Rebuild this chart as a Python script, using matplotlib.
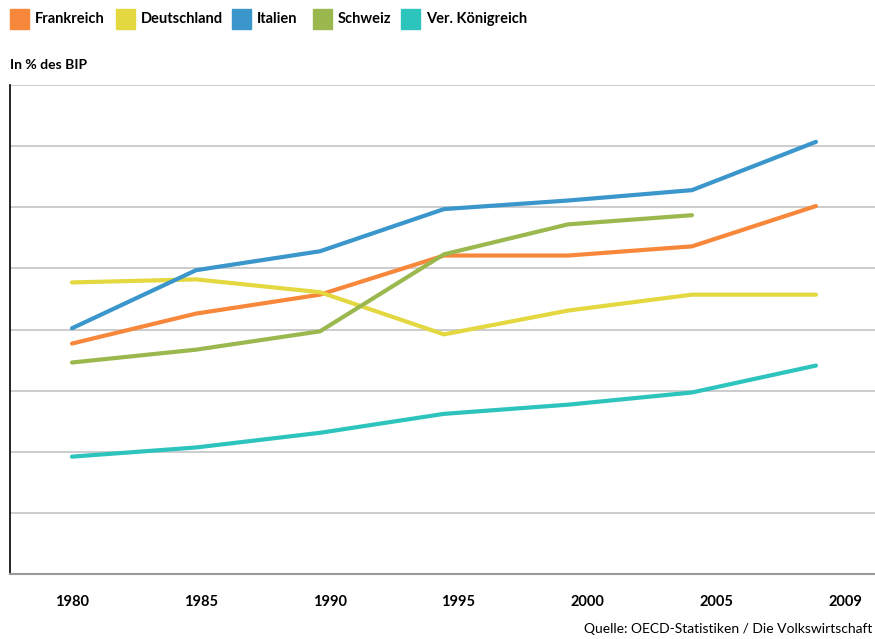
import matplotlib.pyplot as plt
import numpy as np
from matplotlib.patches import Rectangle

plt.rcParams["font.family"] = ["Lato", "DejaVu Sans"]

years = ["1980", "1985", "1990", "1995", "2000", "2005", "2009"]
frankreich = [3.77, 4.26, 4.57, 5.21, 5.21, 5.36, 6.02]
deutschland = [4.77, 4.82, 4.61, 3.92, 4.31, 4.57, 4.57]
italien = [4.02, 4.97, 5.28, 5.97, 6.11, 6.28, 7.07]
schweiz = [3.46, 3.67, 3.97, 5.23, 5.72, 5.87, np.nan]
koenigreich = [1.92, 2.07, 2.31, 2.62, 2.77, 2.97, 3.41]

names = ["Frankreich", "Deutschland", "Italien", "Schweiz", "Ver. Königreich"]
colors = ["#F7883B", "#E3D83F", "#3A96CB", "#9BB84F", "#2EC4BE"]
series = [frankreich, deutschland, italien, schweiz, koenigreich]

W, H = 875, 639
fig = plt.figure(figsize=(W / 100, H / 100), dpi=100)
ax = fig.add_axes([10 / W, (H - 574) / H, 1 - 10 / W, (574 - 85) / H])

x = np.arange(len(years))
for vals, c in zip(series, colors):
    ax.plot(x, vals, color=c, lw=3, solid_capstyle="round", zorder=3)

ax.set_xlim(-0.5, 6.476)
ax.set_ylim(0, 8)
ax.set_yticks(np.arange(1, 9))
ax.yaxis.grid(True, color="#cccccc", lw=1.4)
ax.tick_params(axis="y", length=0, labelleft=False)
ax.set_xticks(x * 1.039)
ax.set_xticklabels(years, fontsize=10.5, fontweight="bold")
ax.tick_params(axis="x", length=0, pad=15)
for s in ["top", "right"]:
    ax.spines[s].set_visible(False)
ax.spines["left"].set_color("black")
ax.spines["left"].set_linewidth(1.2)
ax.spines["bottom"].set_color("#999999")
ax.spines["bottom"].set_linewidth(1.5)

# legend row
box_x = [10, 116, 232, 313, 401]
for bx, name, c in zip(box_x, names, colors):
    fig.patches.append(Rectangle((bx / W, 1 - 29 / H), 19 / W, 20 / H,
                                 transform=fig.transFigure, color=c))
    fig.text((bx + 25) / W, 1 - 19 / H, name, fontsize=10.5, fontweight="bold",
             va="center", ha="left")

fig.text(10 / W, 1 - 65 / H, "In % des BIP", fontsize=10, fontweight="bold",
         va="center", ha="left")
fig.text(872 / W, 1 - 629 / H, "Quelle: OECD-Statistiken / Die Volkswirtschaft",
         fontsize=10, va="center", ha="right")

fig.savefig("out.png", dpi=100)
